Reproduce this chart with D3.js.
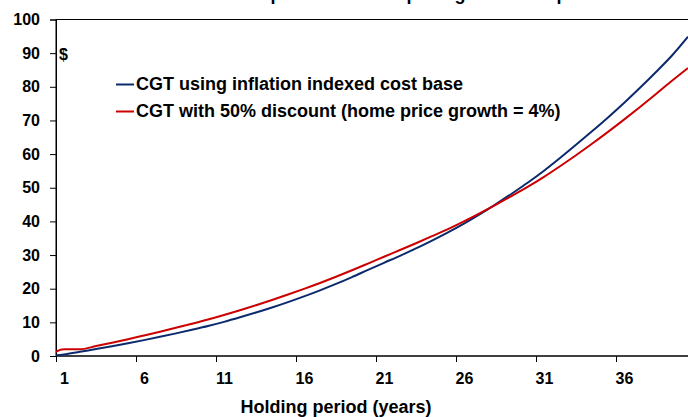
<!DOCTYPE html>
<html>
<head>
    <title>CGT comparison</title>
    <script src="https://d3js.org/d3.v7.min.js"></script>
    <style>
        body { margin: 0; background: #fff; }
        svg { display: block; font-family: "Liberation Sans", Arial, sans-serif; font-weight: bold; }
    </style>
</head>
<body>
<div id="chart"></div>
<script>
// holding period in years (0 = purchase)
const years = d3.range(0, 41);

// CGT using inflation indexed cost base ($)
const indexedCGT = [0, 0.45, 1.27, 2.05, 2.87, 3.77, 4.72, 5.7, 6.72, 7.8, 8.92,
    10.15, 11.5, 12.92, 14.42, 16.02, 17.72, 19.52, 21.42, 23.45, 25.6,
    27.7, 29.77, 31.97, 34.3, 36.75, 39.35, 42.15, 45.15, 48.3, 51.55,
    55.05, 58.82, 62.75, 66.77, 70.9, 75.2, 79.7, 84.4, 89.3, 94.9];

// CGT with 50% discount, home price growth = 4% ($)
const discountCGT = [0, 2.0, 2.0, 2.95, 3.95, 5.0, 6.1, 7.22, 8.4, 9.6, 10.85,
    12.2, 13.62, 15.1, 16.65, 18.27, 19.95, 21.7, 23.55, 25.47, 27.47,
    29.5, 31.5, 33.52, 35.6, 37.72, 40.0, 42.45, 45.0, 47.62, 50.32,
    53.25, 56.4, 59.67, 63.07, 66.6, 70.25, 74.0, 77.85, 81.8, 85.6];

const xTickLabels = [1, 6, 11, 16, 21, 26, 31, 36];
const yTicks = [0, 10, 20, 30, 40, 50, 60, 70, 80, 90, 100];

const seriesNames = ["CGT using inflation indexed cost base",
                     "CGT with 50% discount (home price growth = 4%)"];
const seriesColors = ["#0b2a6e", "#cc0000"];

const width = 688;
const height = 417;

const svg = d3.select("#chart")
    .append("svg")
    .attr("width", width)
    .attr("height", height);

// each year sits in the middle of a 16px category slot
const x = d3.scaleLinear().domain([0, 40]).range([48, 688]);
const y = d3.scaleLinear().domain([0, 100]).range([356, 19.5]);

const left = x(0.5);

// title, cut off above the picture (only descenders show in the original)
svg.append("text")
    .attr("x", 427)
    .attr("y", 0)
    .attr("text-anchor", "middle")
    .attr("font-size", 18)
    .text("CGT paid with home price growth of 4 per cent");

// plot area border (right side is outside the crop)
svg.append("rect")
    .attr("x", left)
    .attr("y", y(100))
    .attr("width", width)
    .attr("height", y(0) - y(100))
    .attr("fill", "none")
    .attr("stroke", "#000")
    .attr("stroke-width", 1);

// y axis
const yAxis = svg.append("g")
    .attr("transform", `translate(${left},0)`)
    .call(d3.axisLeft(y).tickValues(yTicks).tickSize(6).tickPadding(10));
yAxis.select(".domain").attr("stroke", "#000");
yAxis.selectAll("text").attr("font-size", 16).attr("fill", "#000")
    .attr("font-family", "Liberation Sans, Arial, sans-serif").attr("font-weight", "bold");

// x axis: ticks between categories, labels in the middle of the category
const xAxis = svg.append("g")
    .attr("transform", `translate(0,${y(0)})`)
    .call(d3.axisBottom(x)
        .tickValues(xTickLabels.map(d => d - 0.5))
        .tickFormat(d => d + 0.5)
        .tickSize(6)
        .tickPadding(11));
xAxis.select(".domain").remove();
xAxis.selectAll("text")
    .attr("dx", x(1) - x(0.5))
    .attr("font-size", 16).attr("fill", "#000")
    .attr("font-family", "Liberation Sans, Arial, sans-serif").attr("font-weight", "bold");
svg.append("line")
    .attr("x1", left).attr("x2", width)
    .attr("y1", y(0)).attr("y2", y(0))
    .attr("stroke", "#000");

// x axis title
svg.append("text")
    .attr("x", 336)
    .attr("y", 413)
    .attr("text-anchor", "middle")
    .attr("font-size", 18)
    .text("Holding period (years)");

// unit label
svg.append("text")
    .attr("x", 59)
    .attr("y", 60)
    .attr("font-size", 16)
    .text("$");

// clip lines to the plot area
svg.append("clipPath").attr("id", "plot-clip")
    .append("rect")
    .attr("x", left).attr("y", y(100))
    .attr("width", width - left).attr("height", y(0) - y(100));

const line = d3.line()
    .x(d => x(d[0]))
    .y(d => y(d[1]))
    .curve(d3.curveMonotoneX);

[indexedCGT, discountCGT].forEach((values, i) => {
    svg.append("path")
        .datum(years.map((yr, j) => [yr, values[j]]))
        .attr("clip-path", "url(#plot-clip)")
        .attr("fill", "none")
        .attr("stroke", seriesColors[i])
        .attr("stroke-width", 2)
        .attr("d", line);
});

// legend
seriesNames.forEach((name, i) => {
    const ly = 84.5 + i * 27;
    svg.append("line")
        .attr("x1", 116).attr("x2", 134)
        .attr("y1", ly).attr("y2", ly)
        .attr("stroke", seriesColors[i])
        .attr("stroke-width", 2);
    svg.append("text")
        .attr("x", 136)
        .attr("y", ly + 5.5)
        .attr("font-size", 18)
        .text(name);
});
</script>
</body>
</html>
